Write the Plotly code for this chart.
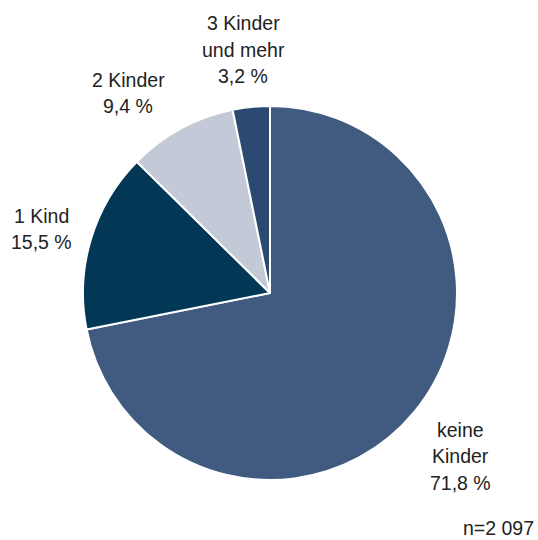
import plotly.graph_objects as go

# data
categories = ["keine Kinder", "1 Kind", "2 Kinder", "3 Kinder und mehr"]
label_lines = [["keine", "Kinder"], ["1 Kind"], ["2 Kinder"], ["3 Kinder", "und mehr"]]
shares = [71.8, 15.5, 9.4, 3.2]
colors = ["#405A80", "#023756", "#C4C9D7", "#2A4A72"]
note = "n=2 097"

W, H = 538, 540
FONT = dict(family="Liberation Sans, Arial, sans-serif", size=19.5, color="#222222")

# label anchor (centre x, first baseline y) in pixels
label_pos = [(460, 436), (41, 222), (128, 86), (243, 30)]
LINE_GAP = 26.5


def px(x):
    return x / W


def py(y):
    return 1 - y / H


fig = go.Figure(
    go.Pie(
        labels=categories,
        values=shares,
        sort=False,
        direction="clockwise",
        rotation=0,
        textinfo="none",
        hoverinfo="label+percent",
        marker=dict(colors=colors, line=dict(color="white", width=2)),
        domain=dict(x=[px(83), px(457)], y=[py(480), py(106)]),
    )
)

annotations = []
for lines, v, (cx, by) in zip(label_lines, shares, label_pos):
    texts = lines + [f"{v:.1f}".replace(".", ",") + " %"]
    for i, t in enumerate(texts):
        y_mid = by + i * LINE_GAP - 6.5
        annotations.append(
            dict(
                text=t,
                x=px(cx),
                y=py(y_mid),
                xref="paper",
                yref="paper",
                xanchor="center",
                yanchor="middle",
                showarrow=False,
                font=FONT,
            )
        )
annotations.append(
    dict(
        text=note,
        x=px(536),
        y=py(528),
        xref="paper",
        yref="paper",
        xanchor="right",
        yanchor="middle",
        showarrow=False,
        font=FONT,
    )
)

fig.update_layout(
    width=W,
    height=H,
    margin=dict(l=0, r=0, t=0, b=0),
    paper_bgcolor="white",
    plot_bgcolor="white",
    showlegend=False,
    annotations=annotations,
)

# drop the default 8px page margin so the chart sits in the window corner
fig.write_html(
    "out.html",
    config={"displayModeBar": False},
    post_script="document.body.style.margin = '0';",
)
